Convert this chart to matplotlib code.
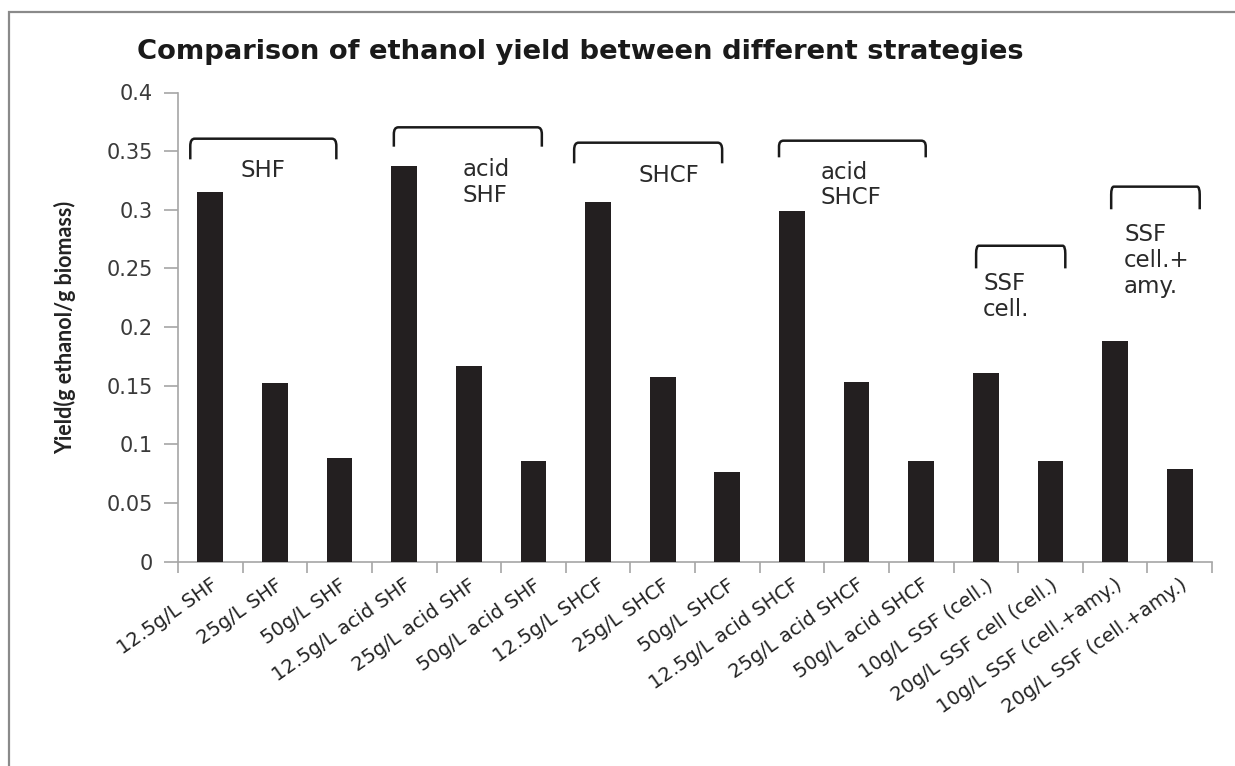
import matplotlib
matplotlib.use("Agg")
import matplotlib.pyplot as plt
from matplotlib.path import Path
from matplotlib.patches import PathPatch, Rectangle

categories = ["12.5g/L SHF", "25g/L SHF", "50g/L SHF",
              "12.5g/L acid SHF", "25g/L acid SHF", "50g/L acid SHF",
              "12.5g/L SHCF", "25g/L SHCF", "50g/L SHCF",
              "12.5g/L acid SHCF", "25g/L acid SHCF", "50g/L acid SHCF",
              "10g/L SSF (cell.)", "20g/L SSF cell (cell.)",
              "10g/L SSF (cell.+amy.)", "20g/L SSF (cell.+amy.)"]
yields = [0.315, 0.152, 0.088,
          0.337, 0.167, 0.086,
          0.307, 0.157, 0.076,
          0.299, 0.153, 0.086,
          0.161, 0.086,
          0.188, 0.079]
yticks = [0, 0.05, 0.1, 0.15, 0.2, 0.25, 0.3, 0.35, 0.4]
ytick_labels = ["0", "0.05", "0.1", "0.15", "0.2", "0.25", "0.3", "0.35", "0.4"]

# group brackets: (x_left, x_right, y_top, y_bottom) in data units
group_labels = ["SHF", "acid\nSHF", "SHCF", "acid\nSHCF", "SSF\ncell.", "SSF\ncell.+\namy."]
bracket_x0 = [-0.31, 2.84, 5.63, 8.80, 11.85, 13.94]
bracket_x1 = [1.95, 5.13, 7.92, 11.07, 13.23, 15.31]
bracket_top = [0.3606, 0.3703, 0.3572, 0.3589, 0.2693, 0.3197]
bracket_bot = [0.343, 0.3538, 0.3396, 0.3447, 0.250, 0.3004]
label_x = [0.82, 3.90, 7.09, 9.44, 11.96, 14.14]
label_y = [0.3333, 0.3232, 0.3296, 0.3211, 0.2262, 0.2567]
label_ha = ["center", "left", "center", "left", "left", "left"]

W, H = 1235, 766
fig = plt.figure(figsize=(W / 100, H / 100), dpi=100)
fig.patch.set_facecolor("white")

# outer border
fig.add_artist(Rectangle((9 / W, -0.05), 1.2, 1 - 12 / H + 0.05, transform=fig.transFigure,
                         fill=False, edgecolor="#8a8a8a", linewidth=1.6))

ax_left, ax_right, ax_bottom, ax_top = 178, 1212, 561.5, 92.5
ax = fig.add_axes([ax_left / W, 1 - ax_bottom / H, (ax_right - ax_left) / W, (ax_bottom - ax_top) / H])
x = list(range(len(categories)))
ax.bar(x, yields, width=0.40, color="#231f20", zorder=3)

ax.set_xlim(-0.5, len(categories) - 0.5)
ax.set_ylim(0, 0.4)
for s in ["top", "right"]:
    ax.spines[s].set_visible(False)
for s in ["left", "bottom"]:
    ax.spines[s].set_color("#a6a6a6")
    ax.spines[s].set_linewidth(1.2)

ax.set_yticks(yticks)
ax.set_yticklabels(ytick_labels, fontfamily="DejaVu Sans", fontsize=15, color="#3a3a3a")
ax.tick_params(axis="y", direction="out", length=10, color="#a6a6a6", width=1.2, pad=8)

# x ticks between categories
ax.set_xticks([i - 0.5 for i in range(len(categories) + 1)])
ax.set_xticklabels([])
ax.tick_params(axis="x", direction="out", length=8, color="#a6a6a6", width=1.2)
ax.set_xticks(x, minor=True)
ax.set_xticklabels(categories, minor=True, rotation=35, ha="right",
                   rotation_mode="anchor", fontfamily="DejaVu Sans", fontsize=14, color="#222222")
ax.tick_params(axis="x", which="minor", length=0, pad=10)

ax.set_ylabel("Yield(g ethanol/g biomass)", fontfamily="Lato", fontweight="bold",
              fontsize=15.5, color="#222222")
ax.yaxis.set_label_coords((76 - ax_left) / (ax_right - ax_left), 0.5)

fig.text(580 / W, 1 - 52 / H, "Comparison of ethanol yield between different strategies",
         ha="center", va="center", fontfamily="DejaVu Sans", fontweight="bold",
         fontsize=19.7, color="#1a1a1a")

# brackets and group labels
for x0, x1, yt, yb in zip(bracket_x0, bracket_x1, bracket_top, bracket_bot):
    dx = (x1 - x0) * 0.03
    dy = (yt - yb) * 0.35
    verts = [(x0, yb), (x0, yt - dy), (x0, yt), (x0 + dx, yt),
             (x1 - dx, yt), (x1, yt), (x1, yt - dy), (x1, yb)]
    codes = [Path.MOVETO, Path.LINETO, Path.CURVE3, Path.CURVE3,
             Path.LINETO, Path.CURVE3, Path.CURVE3, Path.LINETO]
    ax.add_patch(PathPatch(Path(verts, codes), fill=False, edgecolor="#1a1a1a",
                           linewidth=1.8, clip_on=False, zorder=4))

for lx, ly, txt, ha in zip(label_x, label_y, group_labels, label_ha):
    ax.text(lx, ly, txt, ha=ha, va="center", fontfamily="DejaVu Sans", fontsize=16.5,
            color="#2a2a2a", linespacing=1.15, zorder=5)

fig.savefig("out.png", dpi=100, facecolor="white")
